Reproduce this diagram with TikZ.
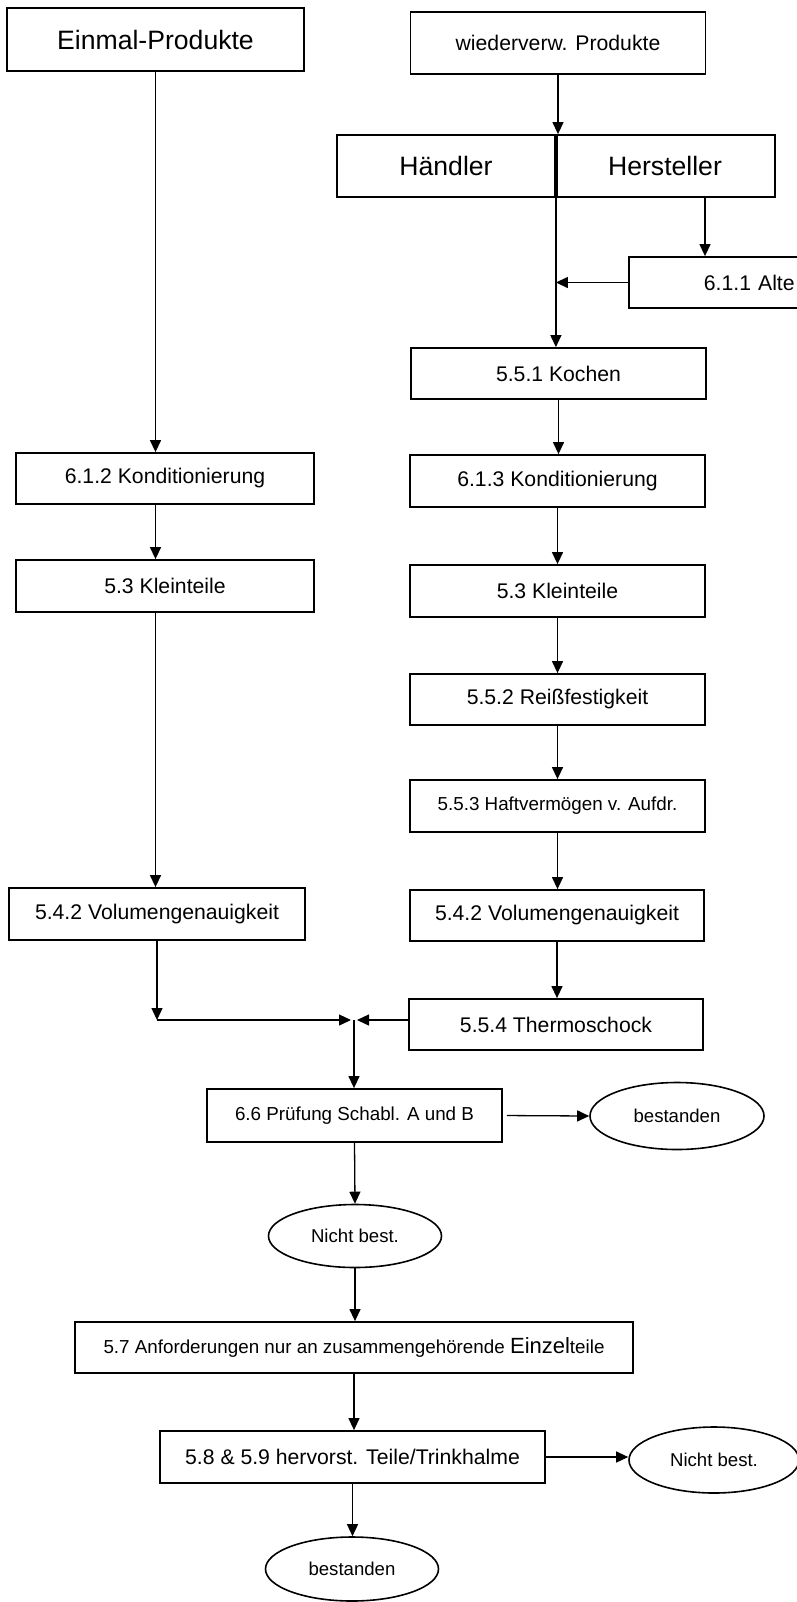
\documentclass[tikz,border=0pt]{standalone}
\usepackage{fontspec}
\setmainfont{Liberation Sans}
\usetikzlibrary{arrows.meta, shapes.geometric}

\begin{document}
\begin{tikzpicture}[x=0.5pt, y=-0.5pt,
    kasten/.style={draw, line width=0.9pt, rectangle, inner sep=0pt, minimum width=147.5pt, minimum height=26pt},
    oval/.style={draw, line width=0.8pt, ellipse, inner sep=0pt, minimum width=86.5pt, minimum height=32pt, font=\fontsize{9.3}{11}\selectfont},
    gross/.style={font=\fontsize{13.3}{16}\selectfont},
    mittel/.style={font=\fontsize{10.6}{13}\selectfont},
    klein/.style={font=\fontsize{9.4}{11}\selectfont},
    pfeil/.style={line width=0.65pt, -{Triangle[length=6pt,width=5.5pt]}}]
    \useasboundingbox (0,0) rectangle (797,1602);
    \clip (0,0) rectangle (797,1602);

    \node[kasten, gross, minimum width=148.5pt, minimum height=31.5pt] (einmal) at (155.5,39.5) {Einmal-Produkte};
    \node[kasten, mittel, minimum height=31pt] (wieder) at (558,43) {wiederverw. Produkte};
    \node[kasten, gross, minimum width=109pt, minimum height=31pt] (haendler) at (446,166) {Händler};
    \node[kasten, gross, minimum width=110pt, minimum height=31pt] (herst) at (665,166) {Hersteller};
    \node[kasten, mittel, minimum height=25.5pt, anchor=west, inner xsep=37.5pt, text width=80pt, align=left] (alt) at (628,282.5) {6.1.1 Alte};
    \node[kasten, mittel, minimum height=25.5pt] (kochen) at (558.5,373.5) {5.5.1 Kochen};

    \node[kasten, mittel, minimum width=149pt, minimum height=25.5pt] (kondE) at (165,478.5) {6.1.2 Konditionierung};
    \node[kasten, mittel, minimum width=149pt] (kleinE) at (165,586) {5.3 Kleinteile};
    \node[kasten, mittel, minimum width=148pt] (volE) at (157,914) {5.4.2 Volumengenauigkeit};

    \node[kasten, mittel] (kondW) at (557.5,481) {6.1.3 Konditionierung};
    \node[kasten, mittel] (kleinW) at (557.5,591) {5.3 Kleinteile};
    \node[kasten, mittel, minimum height=25.5pt] (reiss) at (557.5,699.5) {5.5.2 Reißfestigkeit};
    \node[kasten, klein] (haft) at (557.5,806) {5.5.3 Haftvermögen v. Aufdr.};
    \node[kasten, mittel, minimum width=147pt, minimum height=25.5pt] (volW) at (557,915.5) {5.4.2 Volumengenauigkeit};
    \node[kasten, mittel, minimum width=147pt, minimum height=25.5pt] (thermo) at (556,1024.5) {5.5.4 Thermoschock};

    \node[kasten, klein, minimum height=26.5pt] (pruef) at (354.5,1115.5) {6.6 Prüfung Schabl. A und B};
    \node[oval, minimum width=87pt, minimum height=33.5pt] (bestA) at (677,1116) {bestanden};
    \node[oval, minimum height=31.5pt] (nichtA) at (355,1236) {Nicht best.};
    \node[kasten, klein, minimum width=279pt, minimum height=25.5pt] (anf) at (354,1347.5) {5.7 Anforderungen nur an zusammengehörende {\fontsize{11}{13}\selectfont Einzel}teile};
    \node[kasten, mittel, minimum width=192.5pt] (hervor) at (352.5,1457) {5.8 \& 5.9 hervorst. Teile/Trinkhalme};
    \node[oval, minimum width=85pt, minimum height=33pt] (nichtB) at (714,1460) {Nicht best.};
    \node[oval] (bestB) at (352,1569) {bestanden};

    \coordinate (mitte) at (354,1020);
    \coordinate (links) at (351,1020);
    \coordinate (rechts) at (357,1020);

    \draw[pfeil] (einmal.south) -- (einmal.south |- kondE.north);
    \draw[pfeil] (einmal.south |- kondE.south) -- (einmal.south |- kleinE.north);
    \draw[pfeil] (einmal.south |- kleinE.south) -- (einmal.south |- volE.north);
    \draw[pfeil] (volE.south) -- (volE.south |- mitte);
    \draw[pfeil] (volE.south |- mitte) -- (links);

    \draw[pfeil] (wieder.south) -- (wieder.south |- haendler.north);
    \draw[line width=1.6pt] (haendler.north east) -- (haendler.south east);
    \draw[pfeil] (haendler.south east) -- (haendler.south east |- kochen.north);
    \draw[pfeil] ([xshift=20pt]herst.south) -- ([xshift=20pt]herst.south |- alt.north);
    \draw[pfeil] (alt.west) -- (alt.west -| haendler.south east);
    \draw[pfeil] (kochen.south) -- (kochen.south |- kondW.north);
    \draw[pfeil] (kondW.south) -- (kondW.south |- kleinW.north);
    \draw[pfeil] (kleinW.south) -- (kleinW.south |- reiss.north);
    \draw[pfeil] (reiss.south) -- (reiss.south |- haft.north);
    \draw[pfeil] (haft.south) -- (haft.south |- volW.north);
    \draw[pfeil] (volW.south) -- (volW.south |- thermo.north);
    \draw[pfeil] (thermo.west |- rechts) -- (rechts);

    \draw[pfeil] (mitte) -- (mitte |- pruef.north);
    \draw[pfeil, shorten <=2pt] (pruef.east) -- (bestA.west);
    \draw[pfeil] (pruef.south) -- (nichtA.north);
    \draw[pfeil] (nichtA.south) -- (nichtA.south |- anf.north);
    \draw[pfeil] (anf.south) -- (anf.south |- hervor.north);
    \draw[pfeil] (hervor.east) -- (hervor.east -| nichtB.west);
    \draw[pfeil] (hervor.south) -- (hervor.south |- bestB.north);
\end{tikzpicture}
\end{document}
